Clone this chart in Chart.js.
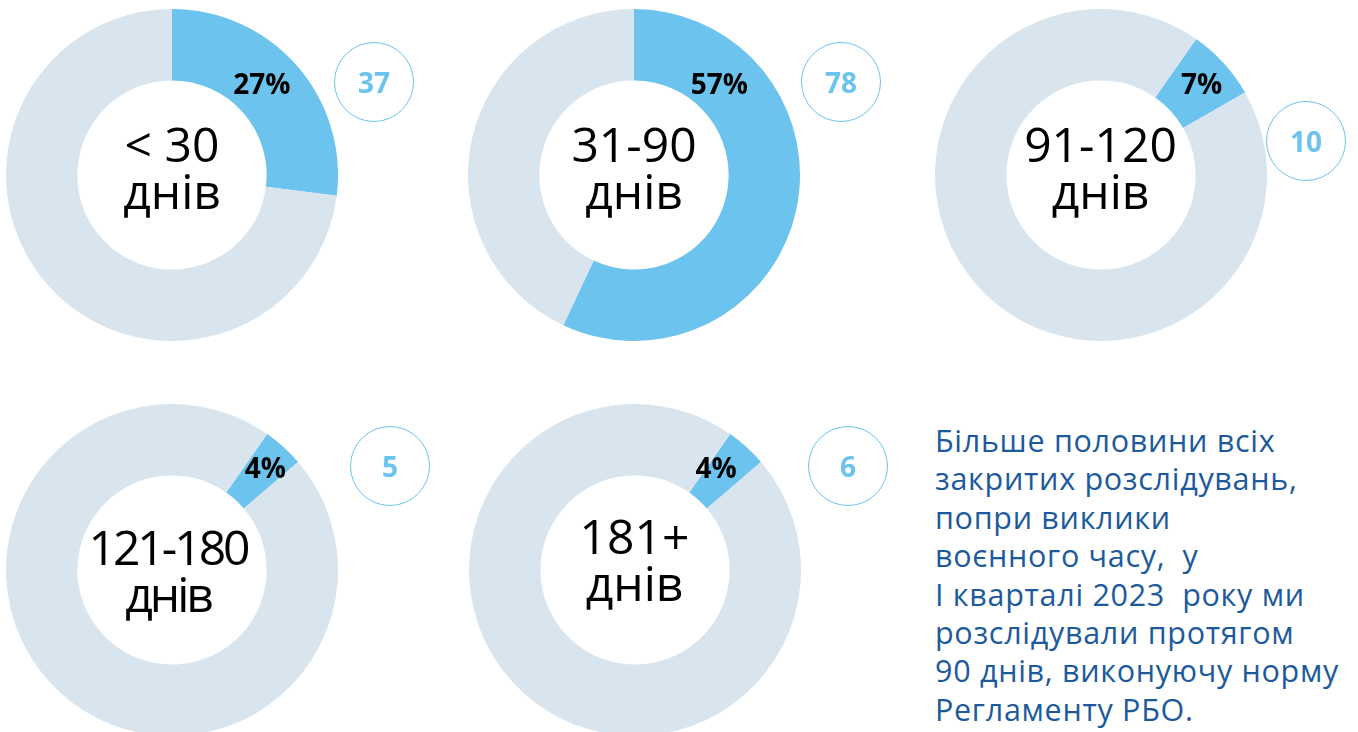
<!DOCTYPE html>
<html>
<head>
<meta charset="utf-8">
<script src="https://cdn.jsdelivr.net/npm/chart.js@4"></script>
<style>
    html, body {
        margin: 0;
        padding: 0;
        width: 1358px;
        height: 732px;
        overflow: hidden;
        background: #ffffff;
        font-family: "Open Sans", sans-serif;
    }
    .donut {
        position: absolute;
        width: 332px;
        height: 332px;
    }
    .donut canvas {
        position: absolute;
        left: 0;
        top: 0;
    }
    .center-text {
        position: absolute;
        left: 0;
        width: 332px;
        text-align: center;
        font-size: 48px;
        line-height: 47px;
        color: #000000;
        white-space: pre;
    }
    .pct {
        position: absolute;
        transform: translate(-50%, -50%);
        font-size: 28px;
        font-weight: 700;
        line-height: 1;
        color: #000000;
        white-space: nowrap;
    }
    .bubble {
        position: absolute;
        width: 78px;
        height: 78px;
        border: 1.5px solid #6cc3ee;
        border-radius: 50%;
        display: flex;
        align-items: center;
        justify-content: center;
        font-size: 28px;
        font-weight: 700;
        color: #6cc3ee;
    }
    .note {
        position: absolute;
        left: 935px;
        top: 421px;
        font-size: 30.5px;
        letter-spacing: 0.7px;
        line-height: 38.4px;
        color: #1d5a9c;
        white-space: pre;
    }
</style>
</head>
<body>
<script>
    // Daten
    const kategorien = ["< 30\nднів", "31-90\nднів", "91-120\nднів", "121-180\nднів", "181+\nднів"];
    const anteile = [27, 57, 7, 4, 4];
    const anzahl = [37, 78, 10, 5, 6];
    const notiz = [
        "Більше половини всіх",
        "закритих розслідувань,",
        "попри виклики",
        "воєнного часу,  у",
        "I кварталі 2023  року ми",
        "розслідували протягом",
        "90 днів, виконуючу норму",
        "Регламенту РБО.",
    ];

    // Lage der Ringe (Mitte, Drehung, Textversatz, Prozentlabel, Kreis mit Anzahl)
    const lage = [
        { cx: 172, cy: 174.5, drehung: 0, textDx: 0, textDy: -12.8, sperrung: 0, pctWinkel: 44.5, pctR: 0.47, kreis: [374.5, 82.5] },
        { cx: 634, cy: 174.5, drehung: 0, textDx: 0, textDy: -12.8, sperrung: 0, pctWinkel: 43, pctR: 0.43, kreis: [841.5, 82.5] },
        { cx: 1100.5, cy: 174.5, drehung: 35, textDx: 0, textDy: -12.8, sperrung: 0, pctWinkel: 48, pctR: 0.58, kreis: [1306.5, 141] },
        { cx: 172, cy: 569.5, drehung: 35, textDx: -4, textDy: -4.5, sperrung: -3, pctWinkel: 42.3, pctR: 0.62, kreis: [390.5, 466.5] },
        { cx: 634.5, cy: 569.5, drehung: 35, textDx: 0, textDy: -16, sperrung: 0, pctWinkel: 38.5, pctR: 0.51, kreis: [848.5, 466.5] },
    ];

    const blau = "#6cc3ee";
    const hellgrau = "#d8e5ee";

    const prozentPlugin = {
        id: "prozentLabel",
        afterDraw(chart, args, opts) {
            const bogen = chart.getDatasetMeta(0).data[0];
            if (!bogen) return;
            const p = bogen.getProps(["x", "y", "innerRadius", "outerRadius"], true);
            const winkel = (opts.winkel - 90) * Math.PI / 180;
            const r = p.innerRadius + opts.r * (p.outerRadius - p.innerRadius);
            opts.el.style.left = (p.x + Math.cos(winkel) * r) + "px";
            opts.el.style.top = (p.y + Math.sin(winkel) * r) + "px";
        },
    };

    kategorien.forEach((kategorie, i) => {
        const l = lage[i];
        const box = document.createElement("div");
        box.className = "donut";
        box.style.left = (l.cx - 166) + "px";
        box.style.top = (l.cy - 166) + "px";
        const canvas = document.createElement("canvas");
        canvas.width = 332;
        canvas.height = 332;
        box.appendChild(canvas);

        const mitte = document.createElement("div");
        mitte.className = "center-text";
        mitte.textContent = kategorie;
        mitte.style.left = l.textDx + "px";
        mitte.style.top = (166 + l.textDy - 42) + "px";
        mitte.style.letterSpacing = l.sperrung + "px";
        box.appendChild(mitte);

        const pct = document.createElement("div");
        pct.className = "pct";
        pct.textContent = anteile[i] + "%";
        box.appendChild(pct);
        document.body.appendChild(box);

        const kreis = document.createElement("div");
        kreis.className = "bubble";
        kreis.style.left = (l.kreis[0] - 40.5) + "px";
        kreis.style.top = (l.kreis[1] - 40.5) + "px";
        kreis.textContent = anzahl[i];
        document.body.appendChild(kreis);

        new Chart(canvas, {
            type: "doughnut",
            data: {
                labels: ["Anteil", "Rest"],
                datasets: [
                    {
                        data: [anteile[i], 100 - anteile[i]],
                        backgroundColor: [blau, hellgrau],
                        borderWidth: 0,
                    },
                ],
            },
            options: {
                responsive: false,
                animation: false,
                events: [],
                cutout: "57%",
                rotation: l.drehung,
                layout: { padding: 0 },
                plugins: {
                    legend: { display: false },
                    tooltip: { enabled: false },
                    prozentLabel: { el: pct, winkel: l.pctWinkel, r: l.pctR },
                },
            },
            plugins: [prozentPlugin],
        });
    });

    const text = document.createElement("div");
    text.className = "note";
    text.textContent = notiz.join("\n");
    document.body.appendChild(text);
</script>
</body>
</html>
